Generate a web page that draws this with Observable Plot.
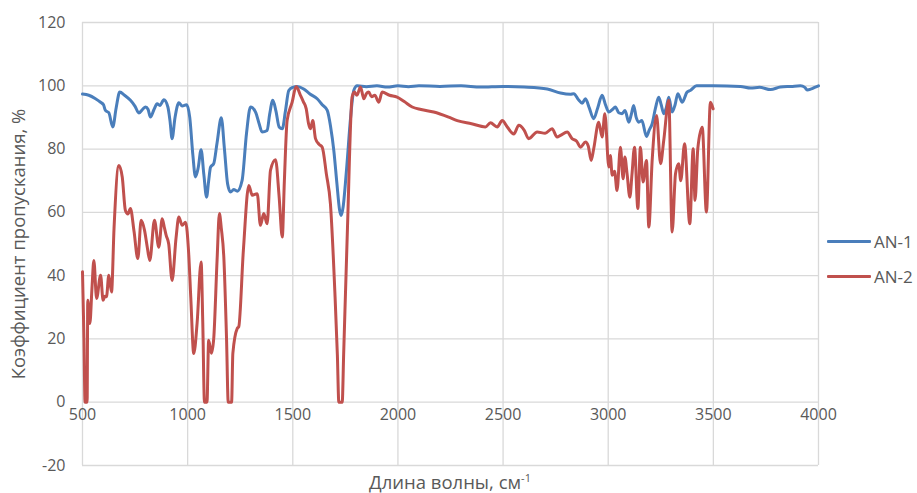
<!DOCTYPE html>
<html><head><meta charset="utf-8">
<script src="https://cdn.jsdelivr.net/npm/d3@7"></script>
<script src="https://cdn.jsdelivr.net/npm/@observablehq/plot@0.6"></script>
<style>
body{margin:0;background:#fff;font-family:"Open Sans",sans-serif;}
#wrap{position:relative;width:917px;height:493px;}
.leg{position:absolute;left:827px;height:20px;font-size:17px;color:#595959;display:flex;align-items:center;}
.leg .sw{display:inline-block;width:44px;height:3px;margin-right:3px;border-radius:1px;}
</style></head><body><div id="wrap"></div>
<script>
const xTicks = [500, 1000, 1500, 2000, 2500, 3000, 3500, 4000];
const yTicks = [-20, 0, 20, 40, 60, 80, 100, 120];
const seriesNames = ["AN-1", "AN-2"];
const seriesColors = ["#4a7ebb", "#c0504d"];

const an1X = [500,530,560,586,600,609,625,644,660,677,700,728,750,768,785,800,812,823,840,855,868,887,906,916,926,940,958,974,995,1010,1025,1037,1050,1064,1077,1090,1100,1109,1124,1140,1160,1175,1190,1204,1219,1236,1259,1280,1299,1323,1340,1354,1378,1390,1405,1420,1435,1450,1465,1481,1500,1521,1552,1580,1616,1640,1664,1680,1695,1710,1722,1730,1740,1750,1759,1775,1790,1806,1850,1900,1950,2000,2050,2100,2200,2300,2393,2500,2600,2710,2773,2820,2836,2860,2876,2892,2910,2931,2950,2971,2987,3003,3020,3034,3050,3066,3080,3098,3110,3121,3133,3145,3160,3182,3195,3209,3225,3240,3252,3264,3276,3288,3304,3318,3331,3352,3375,3390,3420,3500,3629,3677,3720,3772,3819,3870,3914,3935,3946,3965,3985,4000];
const an1Y = [97.4,97.0,96.0,94.8,94.0,92.2,91.5,87.0,93,98.0,97,95.4,93.5,91.4,92.5,93.3,92.5,90.1,92.5,94.3,93.8,95.6,93.3,89,83.3,90,94.6,93.6,94.0,90,78,71.2,74,79.8,72,64.8,70,74.3,75.4,82,89.9,80,69,66.4,67.2,66.7,70.1,85,93.3,91.7,88,85.4,85.9,91,95.4,92,87,86.4,92,98.5,99.5,99.8,99,97.5,95.9,94,92.2,87,79.6,69,61,59,62,69,76.4,90,98.5,100,99.7,100,99.6,100,99.7,100,99.8,100,99.6,99.8,99.6,99.0,97.7,97.3,97.5,95.5,94.5,95.9,93,89.6,93,97,94,91.7,92.5,93.3,91.5,91.2,92.2,88.5,91,93.8,90,88.5,89,84,86,88,93,96.4,94,91.2,93,96.4,91.7,94,97.5,94.8,98,98.5,100,100,99.8,99.3,99.5,98.8,99.6,99.8,100,99.5,98.7,99,99.6,100];

const an2X = [500,507,512,522,525,535,545,554,567,586,598,606,614,625,638,650,673,689,704,716,728,745,763,779,795,808,820,842,863,879,890,898,910,926,945,958,974,990,1005,1015,1029,1045,1064,1072,1080,1092,1100,1113,1124,1140,1151,1160,1172,1185,1193,1209,1215,1236,1243,1265,1291,1307,1331,1346,1362,1378,1394,1418,1435,1450,1460,1473,1497,1516,1537,1550,1564,1575,1584,1595,1608,1625,1640,1660,1679,1700,1712,1719,1735,1742,1760,1782,1793,1805,1822,1838,1850,1861,1875,1890,1909,1925,1960,1996,2030,2068,2110,2170,2241,2282,2350,2416,2440,2472,2496,2520,2551,2575,2600,2622,2662,2700,2733,2757,2773,2805,2828,2850,2868,2892,2905,2919,2931,2955,2971,2984,3003,3010,3019,3030,3042,3058,3071,3079,3090,3103,3113,3125,3141,3153,3166,3182,3193,3209,3230,3249,3264,3288,3304,3320,3335,3345,3363,3388,3404,3413,3426,3447,3467,3486,3499];
const an2Y = [41.2,20,0,0,32.2,24.9,36,44.8,32.8,40.1,32.2,33.5,33.3,40.1,34.8,55,74.8,71.2,60.6,59.5,61.2,54,45.4,57.5,54.3,49,44.8,57.5,49,58,55,52.7,50,38.5,52,58.5,55.9,56.9,47,33,15.4,25,44.3,25,0,0,19.6,15.5,20.1,45,59.6,55,45.9,20,0,0,15.4,23.3,23.8,48,68.5,65.4,65.9,55.9,59.6,56.4,73.3,76.6,65,52.2,70,89,94.8,99.8,96.9,95,92.7,88,86.4,89,83.3,81.5,80.6,72,62.7,35,15,0,0,15.4,55,96.4,98,97,99.6,95.9,97.5,98,96.5,97,94.8,98,97,96.4,95,93.3,92.5,91.7,90.1,89,88,87,88.3,87,89,87,84.8,87.5,86,83.3,85.4,85,86.4,83.8,84.3,85.4,83.3,82.5,80.6,82.2,81,76.4,80.1,88.5,83.8,91.2,74.3,78,71.7,73,66.9,80.6,70.6,77.5,72,64.8,72,80.6,61.2,80.6,69.6,76.4,55.4,76.4,90.6,75.4,82.7,95.4,53.8,72.2,75.4,70,81.7,56.4,80.1,63.8,80.1,86.9,60.1,94.8,92.7];

const data = [
  ...an1X.map((x, i) => ({x, y: an1Y[i], s: seriesNames[0]})),
  ...an2X.map((x, i) => ({x, y: an2Y[i], s: seriesNames[1]}))
];

const plot = Plot.plot({
  width: 917, height: 493,
  marginLeft: 82, marginRight: 99, marginTop: 22, marginBottom: 28,
  style: {fontFamily: "'Open Sans', sans-serif", fontSize: "16px", color: "#595959", background: "#fff"},
  x: {domain: [500, 4000], axis: null},
  y: {domain: [-20, 120], axis: null},
  color: {domain: seriesNames, range: seriesColors},
  marks: [
    Plot.gridX(xTicks, {stroke: "#d9d9d9", strokeOpacity: 1, strokeWidth: 1.3}),
    Plot.gridY(yTicks, {stroke: "#d9d9d9", strokeOpacity: 1, strokeWidth: 1.3}),
    Plot.axisY(yTicks, {tickSize: 0, tickPadding: 17, label: null, fill: "#595959", tickFormat: d => String(d)}),
    Plot.text(xTicks, {x: d => d, y: 0, dy: 13, text: d => String(d), fill: "#595959", fontSize: 16}),
    Plot.text(["Коэффициент пропускания, %"], {frameAnchor: "left", textAnchor: "middle", dx: -63, rotate: -90, fill: "#595959", fontSize: 18.5}),
    Plot.line(data, {x: "x", y: "y", z: "s", stroke: "s", strokeWidth: 3, curve: "monotone-x"})
  ]
});
document.getElementById("wrap").appendChild(plot);

// x axis title with superscript
const svg = d3.select(plot);
const t = svg.append("text").attr("x", 450).attr("y", 489).attr("text-anchor", "middle")
  .attr("fill", "#595959").style("font-family", "'Open Sans', sans-serif").style("font-size", "18.5px");
t.append("tspan").text("Длина волны, см");
t.append("tspan").attr("dy", -7).style("font-size", "11px").text("-1");

// legend
seriesNames.forEach((n, i) => {
  const d = document.createElement("div");
  d.className = "leg";
  d.style.top = (231 + i * 35) + "px";
  d.innerHTML = `<span class="sw" style="background:${seriesColors[i]}"></span><span>${n}</span>`;
  document.getElementById("wrap").appendChild(d);
});
</script></body></html>
